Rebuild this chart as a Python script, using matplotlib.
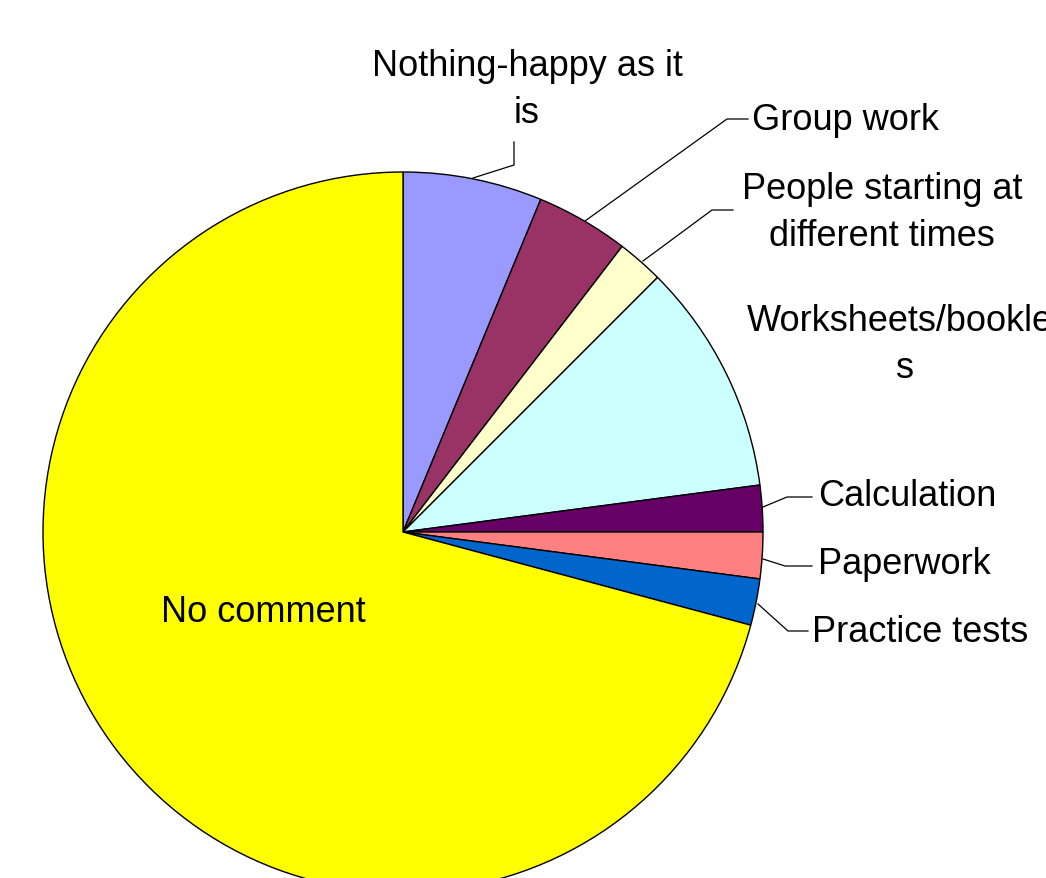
import matplotlib
matplotlib.use("Agg")
import matplotlib.pyplot as plt

categories = ["Nothing-happy as it\nis", "Group work", "People starting at\ndifferent times",
              "Worksheets/booklet\ns", "Calculation", "Paperwork", "Practice tests", "No comment"]
values = [3, 2, 1, 5, 1, 1, 1, 34]
colors = ["#9999FF", "#993366", "#FFFFCC", "#CCFFFF", "#660066", "#FF8080", "#0066CC", "#FFFF00"]

W, H = 1046, 879
plt.rcParams['font.family'] = ['Liberation Sans', 'DejaVu Sans']
fig = plt.figure(figsize=(W / 100, H / 100), dpi=100)
ax = fig.add_axes([0, 0, 1, 1])

def P(x, y):
    return x, H - y

cx, cy = P(403, 533)
ax.pie(values, colors=colors, startangle=90, counterclock=False, center=(cx, cy), radius=360,
       wedgeprops=dict(edgecolor="black", linewidth=1.0))
ax.set_xlim(0, W)
ax.set_ylim(0, H)
ax.set_aspect("equal")
ax.axis("off")

fs = 26
# label specs: (text position, ha, leader polyline points)
specs = [
    ((527, 90), "center", [(473, 179), (514, 166), (514, 143)]),
    ((752, 120), "left", [(585, 222), (727, 120), (748, 120)]),
    ((882, 213), "center", [(643, 262), (712, 211), (733, 211)]),
    ((905, 345), "center", None),
    ((818, 497), "left", [(763, 508), (787, 498), (812, 498)]),
    ((818, 565), "left", [(763, 560), (785, 567), (812, 567)]),
    ((812, 632), "left", [(758, 605), (788, 632), (808, 632)]),
    ((263, 612), "center", None),
]
for label, (pos, ha, line) in zip(categories, specs):
    x, y = P(*pos)
    ax.text(x, y, label, ha=ha, va="center", fontsize=fs, color="black",
            multialignment="center", linespacing=1.45)
    if line:
        xs = [p[0] for p in line]
        ys = [H - p[1] for p in line]
        ax.plot(xs, ys, color="black", linewidth=0.9)

fig.savefig("out.png", dpi=100)
